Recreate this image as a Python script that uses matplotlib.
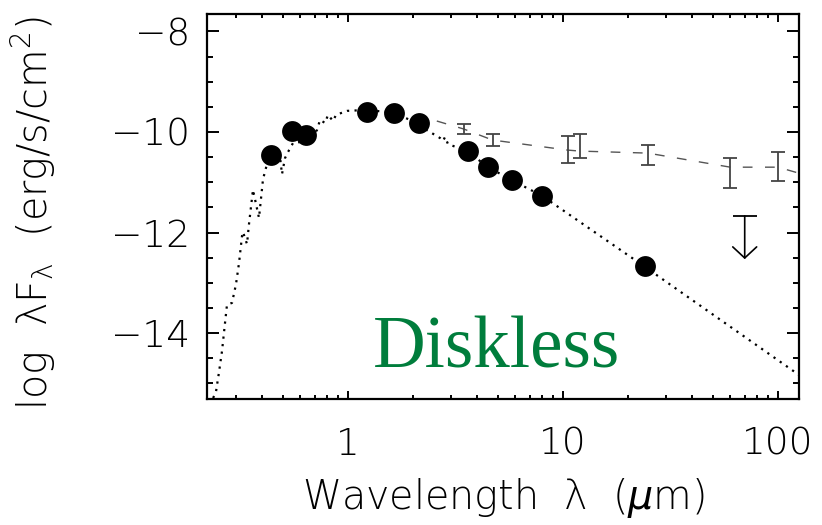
import matplotlib
matplotlib.use("Agg")
import matplotlib.pyplot as plt
from matplotlib.ticker import FixedLocator, MultipleLocator, NullFormatter, FixedFormatter

# Stellar photosphere model (log lambda*F_lambda), wavelength in micron
phot_wl = [0.2280, 0.2432, 0.2512, 0.2594, 0.2679, 0.2736, 0.2887, 0.3013, 0.3112,
           0.3214, 0.3248, 0.3390, 0.3464, 0.3614, 0.3855, 0.4024, 0.4246, 0.4574,
           0.4776, 0.4932, 0.5093, 0.5258, 0.5548, 0.5978, 0.6657, 0.7176, 0.7410,
           0.7818, 0.8072, 0.8517, 0.8795, 0.9893, 1.226, 1.637, 1.943, 2.407, 2.679,
           2.766, 2.827, 2.918, 3.58, 4.48, 5.79, 7.99, 23.8, 150.0]
phot_val = [-15.43, -15.17, -14.78, -14.36, -13.80, -13.44, -13.40, -13.03, -12.61,
            -12.07, -11.99, -12.23, -11.83, -11.15, -11.71, -10.94, -10.56, -10.36,
            -10.32, -10.84, -10.52, -10.40, -10.22, -10.20, -10.16, -9.96, -9.76,
            -9.82, -9.66, -9.78, -9.66, -9.58, -9.56, -9.62, -9.76, -10.00, -10.12,
            -10.18, -10.10, -10.24, -10.38, -10.70, -10.96, -11.27, -12.67, -15.07]

# Observed photometry of the diskless star
obs_wl = [0.44, 0.55, 0.64, 1.23, 1.64, 2.15, 3.6, 4.5, 5.8, 8.0, 24.0]
obs_val = [-10.46, -9.98, -10.06, -9.60, -9.62, -9.82, -10.38, -10.70, -10.96, -11.27, -12.67]

# Median disk SED (dashed) and its error bars
med_wl = [1.64, 3.45, 4.7, 10.5, 12.0, 24.8, 60.0, 100.0, 200.0]
med_val = [-9.53, -9.94, -10.16, -10.36, -10.38, -10.42, -10.70, -10.70, -11.07]
err_wl = [3.45, 4.7, 10.5, 12.0, 24.8, 60.0, 100.0]
err_val = [-9.94, -10.16, -10.36, -10.38, -10.42, -10.70, -10.70]
err_lo = [0.09, 0.12, 0.26, 0.13, 0.24, 0.41, 0.28]
err_hi = [0.09, 0.12, 0.28, 0.34, 0.16, 0.18, 0.30]

# 70 micron upper limit
ul_wl = 70.0
ul_val = -11.67
ARROW_LEN = 0.86

x_ticks = [1, 10, 100]
x_ticklabels = ["1", "10", "100"]
y_ticks = [-14, -12, -10, -8]
y_ticklabels = ["\u221214", "\u221212", "\u221210", "\u22128"]

FONT = ["DejaVu Sans"]
plt.rcParams["font.family"] = FONT
plt.rcParams["font.weight"] = 200
plt.rcParams["mathtext.fontset"] = "custom"
plt.rcParams["mathtext.rm"] = "DejaVu Sans:weight=200"
plt.rcParams["mathtext.it"] = "DejaVu Sans:italic"
plt.rcParams["mathtext.bf"] = "DejaVu Sans:bold"

fig = plt.figure(figsize=(8.22, 5.25), dpi=100)
ax = fig.add_axes([207 / 822, 1 - 399 / 525, 592 / 822, 385 / 525])
ax.set_xscale("log")
ax.set_xlim(0.2209, 125.2)
ax.set_ylim(-15.313, -7.652)

# photosphere, dotted
ax.plot(phot_wl, phot_val, color="black", lw=1.6, linestyle=(0, (1.0, 2.4)), zorder=2)

# median disk, dashed with error bars
ax.plot(med_wl, med_val, color="#555555", lw=1.0, linestyle=(0, (7, 9)), zorder=3)
ax.errorbar(err_wl, err_val, yerr=[err_lo, err_hi], fmt="none", ecolor="#444444",
            elinewidth=1.3, capsize=5, capthick=1.3, zorder=3)

# photometry
ax.plot(obs_wl, obs_val, "o", color="black", markersize=15, markeredgewidth=0, zorder=4)

# upper limit
ax.plot([ul_wl], [ul_val], marker="_", markersize=17, markeredgewidth=1.3, color="black")
ax.annotate("", xy=(ul_wl, ul_val - ARROW_LEN), xytext=(ul_wl, ul_val),
            arrowprops=dict(arrowstyle="->,head_length=0.4,head_width=0.43",
                            mutation_scale=20, lw=1.2, color="black",
                            shrinkA=0, shrinkB=0))

ax.text((373 - 207) / 592, (399 - 368) / 385, "Diskless", transform=ax.transAxes,
        ha="left", va="baseline", fontsize=52.5, family="Liberation Serif",
        fontweight="normal", color="#007d3c")

# axes styling
for s in ax.spines.values():
    s.set_linewidth(1.6)
ax.xaxis.set_major_locator(FixedLocator(x_ticks))
ax.xaxis.set_major_formatter(FixedFormatter(x_ticklabels))
minor_x = [m * 10.0 ** e for e in (-1, 0, 1) for m in range(2, 10)]
ax.xaxis.set_minor_locator(FixedLocator(minor_x))
ax.xaxis.set_minor_formatter(NullFormatter())
ax.yaxis.set_major_locator(FixedLocator(y_ticks))
ax.yaxis.set_major_formatter(FixedFormatter(y_ticklabels))
ax.yaxis.set_minor_locator(MultipleLocator(0.5))

ax.tick_params(axis="both", which="both", direction="in", top=True, right=True, width=1.4)
ax.tick_params(axis="x", which="major", length=5.8, pad=20, labelsize=27)
ax.tick_params(axis="x", which="minor", length=2.9)
ax.tick_params(axis="y", which="major", length=8.3, pad=12, labelsize=27)
ax.tick_params(axis="y", which="minor", length=4.0)

fig.text(503 / 822, 1 - 509 / 525, "Wavelength  \u03bb  ($\\mu$m)", ha="center",
         va="baseline", fontsize=28.5)
fig.text(33 / 822, 1 - 213 / 525, "log  \u03bbF$_{\\mathrm{\\lambda}}$  (erg/s/cm$^2$)",
         ha="center", va="center", rotation=90, fontsize=28.5)

fig.savefig("out.png", dpi=100)
